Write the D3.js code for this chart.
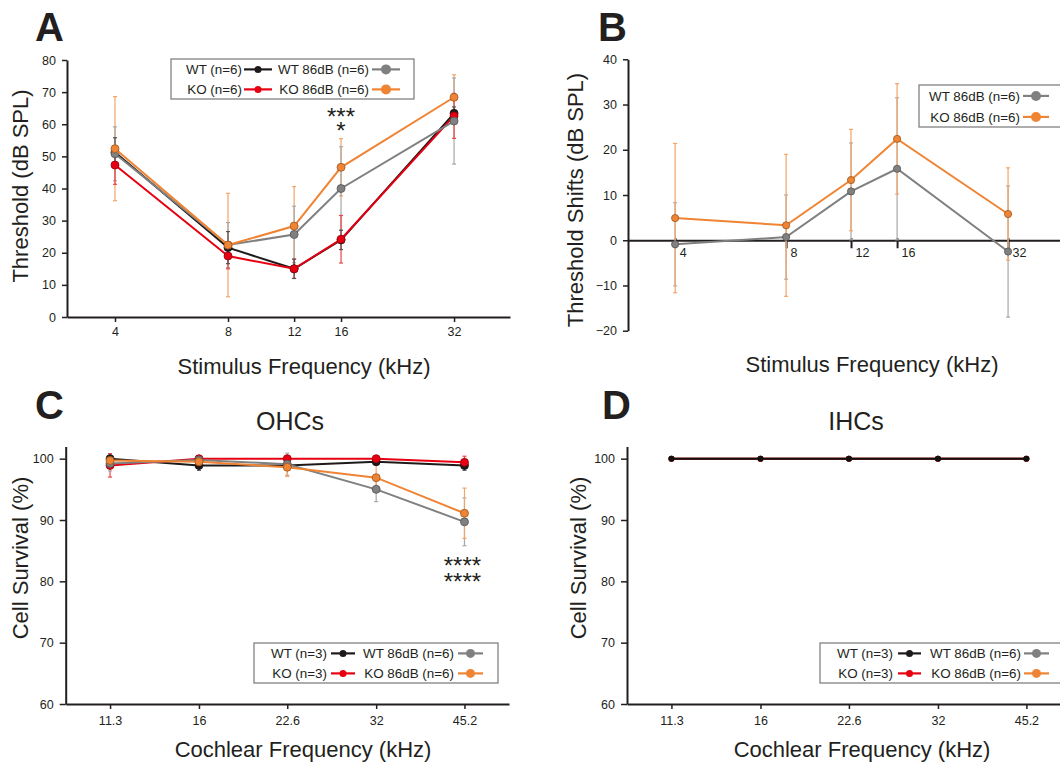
<!DOCTYPE html>
<html>
<head>
<meta charset="utf-8">
<script src="https://cdn.jsdelivr.net/npm/d3@7"></script>
<style>
  body { margin: 0; background: #fff; }
  svg { display: block; }
</style>
</head>
<body>
<script>
// ---- data ----
var freqABR = [4, 8, 12, 16, 32];
var thrWT = [51.3, 21.6, 15.0, 24.0, 63.4];
var thrWTsd = [4.5, 5.0, 3.0, 3.0, 2.0];
var thrKO = [47.3, 19.0, 15.0, 24.2, 62.6];
var thrKOsd = [6.0, 4.0, 3.0, 7.4, 7.0];
var thrWT86 = [50.8, 22.4, 25.7, 40.0, 61.0];
var thrWT86sd = [8.4, 7.0, 8.8, 13.0, 13.4];
var thrKO86 = [52.4, 22.4, 28.3, 46.6, 68.4];
var thrKO86sd = [16.2, 16.1, 12.3, 8.9, 7.0];

var shiftWT86 = [-0.9, 0.7, 10.8, 15.8, -2.5];
var shiftWT86sd = [9.2, 9.3, 10.7, 15.7, 14.5];
var shiftKO86 = [4.9, 3.3, 13.3, 22.4, 5.8];
var shiftKO86sd = [16.5, 15.7, 11.2, 12.2, 10.2];

var cochFreq = [11.3, 16, 22.6, 32, 45.2];
var ohcWT = [100, 98.9, 98.9, 99.5, 98.9];
var ohcWTsd = [0.8, 0.8, 0.6, 0.5, 0.8];
var ohcKO = [98.9, 100, 100, 100, 99.4];
var ohcKOsd = [1.9, 0.3, 0.3, 0.3, 1.0];
var ohcWT86 = [99.2, 99.8, 99.1, 95.0, 89.7];
var ohcWT86sd = [1.2, 0.5, 1.8, 2.0, 3.9];
var ohcKO86 = [99.7, 99.5, 98.6, 96.9, 91.1];
var ohcKO86sd = [0.8, 0.6, 1.5, 2.0, 4.1];

var ihcWT = [100, 100, 100, 100, 100];
var ihcKO = [100, 100, 100, 100, 100];
var ihcWT86 = [100, 100, 100, 100, 100];
var ihcKO86 = [100, 100, 100, 100, 100];

var ticksThr = [0, 10, 20, 30, 40, 50, 60, 70, 80];
var ticksShift = [-20, -10, 0, 10, 20, 30, 40];
var ticksSurv = [60, 70, 80, 90, 100];

// ---- style ----
var FONT = '"Liberation Sans", Arial, Helvetica, sans-serif';
var INK = "#231f20";
var C_WT = "#1e1a1a", C_KO = "#e60012", C_WT86 = "#808080", C_KO86 = "#ef8434";
var E_WT = "#555555", E_KO = "#ee4444", E_WT86 = "#a8a8a8", E_KO86 = "#f3a468";

var svg = d3.select("body").append("svg")
    .attr("width", 1060)
    .attr("height", 766)
    .style("font-family", FONT);
svg.append("rect").attr("width", 1060).attr("height", 766).attr("fill", "#fff");

function styleAxis(g, fs) {
    g.attr("font-family", FONT).attr("font-size", fs || 12.5);
    g.select(".domain").attr("stroke", INK).attr("stroke-width", 2);
    g.selectAll(".tick line").attr("stroke", INK).attr("stroke-width", 1.5);
    g.selectAll(".tick text").attr("fill", INK);
}

function text(x, y, s, size, opts) {
    opts = opts || {};
    var t = svg.append("text")
        .attr("x", x).attr("y", y)
        .attr("font-size", size)
        .attr("fill", INK)
        .attr("text-anchor", opts.anchor || "middle")
        .text(s);
    if (opts.bold) t.attr("font-weight", "bold");
    if (opts.rotate) t.attr("transform", "rotate(-90," + x + "," + y + ")");
    return t;
}

// two stacked rows of asterisks in one text block
function stars(x, y, rows, gap) {
    var t = svg.append("text")
        .attr("x", x).attr("y", y)
        .attr("font-size", 24)
        .attr("fill", INK)
        .attr("text-anchor", "middle");
    rows.forEach(function (r, i) {
        t.append("tspan").attr("x", x).attr("dy", i ? gap : 0).text(r);
    });
}

function errorBars(g, x, y, xs, vals, sds, color) {
    var idx = d3.range(xs.length);
    var e = g.append("g").attr("stroke", color).attr("stroke-width", 1.2).attr("fill", "none");
    e.selectAll(null).data(idx).join("line")
        .attr("x1", function (i) { return x(xs[i]); })
        .attr("x2", function (i) { return x(xs[i]); })
        .attr("y1", function (i) { return y(vals[i] - sds[i]); })
        .attr("y2", function (i) { return y(vals[i] + sds[i]); });
    [-1, 1].forEach(function (s) {
        e.selectAll(null).data(idx).join("line")
            .attr("x1", function (i) { return x(xs[i]) - 2; })
            .attr("x2", function (i) { return x(xs[i]) + 2; })
            .attr("y1", function (i) { return y(vals[i] + s * sds[i]); })
            .attr("y2", function (i) { return y(vals[i] + s * sds[i]); });
    });
}

function series(g, x, y, xs, vals, color, r, outline) {
    var idx = d3.range(xs.length);
    var line = d3.line()
        .x(function (i) { return x(xs[i]); })
        .y(function (i) { return y(vals[i]); });
    g.append("path").datum(idx)
        .attr("d", line)
        .attr("fill", "none")
        .attr("stroke", color)
        .attr("stroke-width", 2);
    g.selectAll(null).data(idx).join("circle")
        .attr("cx", function (i) { return x(xs[i]); })
        .attr("cy", function (i) { return y(vals[i]); })
        .attr("r", r)
        .attr("fill", color)
        .attr("stroke", outline ? d3.color(color).darker(1.2) : "none")
        .attr("stroke-width", 0.8);
}

// legend: items = [{label, color, col, row, r}]
function legend(x0, y0, w, h, items, cols) {
    var g = svg.append("g").attr("transform", "translate(" + x0 + "," + y0 + ")");
    g.append("rect").attr("width", w).attr("height", h)
        .attr("fill", "#fff").attr("stroke", "#777").attr("stroke-width", 1.2);
    items.forEach(function (it) {
        var c = cols[it.col];
        var cy = it.row === 0 ? h * 0.26 : h * 0.76;
        g.append("text")
            .attr("x", c.textEnd).attr("y", cy + 4.8)
            .attr("text-anchor", "end")
            .attr("font-size", 13.4)
            .attr("fill", INK)
            .text(it.label);
        g.append("line")
            .attr("x1", c.s0).attr("x2", c.s1)
            .attr("y1", cy).attr("y2", cy)
            .attr("stroke", it.color).attr("stroke-width", 2.2);
        g.append("circle")
            .attr("cx", (c.s0 + c.s1) / 2).attr("cy", cy)
            .attr("r", it.r).attr("fill", it.color);
    });
}

// ================= Panel A =================
(function () {
    var x = d3.scaleLog().base(2).domain([2.98, 45.1]).range([67, 510]);
    var y = d3.scaleLinear().domain([0, 80]).range([317, 60]);
    var g = svg.append("g");

    g.append("g").attr("transform", "translate(67,0)")
        .call(d3.axisLeft(y).tickValues(ticksThr).tickSize(5).tickSizeOuter(0).tickPadding(6))
        .call(styleAxis);
    g.append("g").attr("transform", "translate(0,317)")
        .call(d3.axisBottom(x).tickValues(freqABR).tickFormat(d3.format("d")).tickSize(5).tickSizeOuter(0).tickPadding(5))
        .call(styleAxis);

    errorBars(g, x, y, freqABR, thrKO86, thrKO86sd, E_KO86);
    errorBars(g, x, y, freqABR, thrWT86, thrWT86sd, E_WT86);
    errorBars(g, x, y, freqABR, thrKO, thrKOsd, E_KO);
    errorBars(g, x, y, freqABR, thrWT, thrWTsd, E_WT);
    series(g, x, y, freqABR, thrWT, C_WT, 4, true);
    series(g, x, y, freqABR, thrKO, C_KO, 4, true);
    series(g, x, y, freqABR, thrWT86, C_WT86, 4, true);
    series(g, x, y, freqABR, thrKO86, C_KO86, 4, true);

    stars(x(16), 125, ["***", "*"], 14);

    text(35, 41, "A", 40, { anchor: "start", bold: true });
    text(28, 186, "Threshold (dB SPL)", 22, { rotate: true });
    text(304, 374, "Stimulus Frequency (kHz)", 22);

    legend(171, 59, 243, 40, [
        { label: "WT (n=6)", color: C_WT, col: 0, row: 0, r: 3.5 },
        { label: "KO (n=6)", color: C_KO, col: 0, row: 1, r: 3.5 },
        { label: "WT 86dB (n=6)", color: C_WT86, col: 1, row: 0, r: 5 },
        { label: "KO 86dB (n=6)", color: C_KO86, col: 1, row: 1, r: 5 }
    ], [{ textEnd: 71, s0: 73, s1: 101 }, { textEnd: 198, s0: 201, s1: 229 }]);
})();

// ================= Panel B =================
(function () {
    var x = d3.scaleLog().base(2).domain([2.98, 45.1]).range([628, 1063]);
    var y = d3.scaleLinear().domain([-20, 40]).range([330.7, 59.3]);
    var g = svg.append("g");

    g.append("g").attr("transform", "translate(628,0)")
        .call(d3.axisLeft(y).tickValues(ticksShift).tickSize(5).tickSizeOuter(0).tickPadding(6))
        .call(styleAxis);
    var xa = g.append("g").attr("transform", "translate(0," + y(0) + ")")
        .call(d3.axisBottom(x).tickValues(freqABR).tickFormat(d3.format("d")).tickSize(8).tickSizeOuter(0).tickPadding(0))
        .call(styleAxis);
    xa.selectAll(".tick line").attr("y1", -2).attr("y2", 8).attr("stroke-width", 2);
    xa.selectAll(".tick text").attr("text-anchor", "start").attr("x", 4);

    errorBars(g, x, y, freqABR, shiftWT86, shiftWT86sd, E_WT86);
    errorBars(g, x, y, freqABR, shiftKO86, shiftKO86sd, E_KO86);
    series(g, x, y, freqABR, shiftWT86, C_WT86, 3.6, true);
    series(g, x, y, freqABR, shiftKO86, C_KO86, 3.6, true);

    text(598, 41, "B", 40, { anchor: "start", bold: true });
    text(583, 200, "Threshold Shifts (dB SPL)", 22, { rotate: true });
    text(872, 372, "Stimulus Frequency (kHz)", 22);

    legend(919, 85, 145, 42, [
        { label: "WT 86dB (n=6)", color: C_WT86, col: 0, row: 0, r: 5 },
        { label: "KO 86dB (n=6)", color: C_KO86, col: 0, row: 1, r: 5 }
    ], [{ textEnd: 101, s0: 104, s1: 130 }]);
})();

// ================= Panel C =================
(function () {
    var x = d3.scaleLog().base(2).domain([9.5, 53.8]).range([65.7, 509]);
    var y = d3.scaleLinear().domain([60, 102]).range([704, 446.4]);
    var g = svg.append("g");

    g.append("g").attr("transform", "translate(65.7,0)")
        .call(d3.axisLeft(y).tickValues(ticksSurv).tickSize(6).tickSizeOuter(0).tickPadding(6))
        .call(styleAxis);
    g.append("g").attr("transform", "translate(0,704)")
        .call(d3.axisBottom(x).tickValues(cochFreq).tickFormat(function (d) { return String(d); }).tickSize(5).tickSizeOuter(0).tickPadding(7))
        .call(styleAxis);

    errorBars(g, x, y, cochFreq, ohcWT, ohcWTsd, E_WT);
    errorBars(g, x, y, cochFreq, ohcKO, ohcKOsd, E_KO);
    errorBars(g, x, y, cochFreq, ohcWT86, ohcWT86sd, E_WT86);
    errorBars(g, x, y, cochFreq, ohcKO86, ohcKO86sd, E_KO86);
    series(g, x, y, cochFreq, ohcWT, C_WT, 4, true);
    series(g, x, y, cochFreq, ohcKO, C_KO, 4, true);
    series(g, x, y, cochFreq, ohcWT86, C_WT86, 4, true);
    series(g, x, y, cochFreq, ohcKO86, C_KO86, 4, true);

    stars(x(45.2) - 2, 574, ["****", "****"], 16);

    text(35, 419, "C", 40, { anchor: "start", bold: true });
    text(290, 430, "OHCs", 25);
    text(28, 558, "Cell Survival (%)", 22, { rotate: true });
    text(303, 757, "Cochlear Frequency (kHz)", 22);

    legend(254, 643, 244, 40, [
        { label: "WT (n=3)", color: C_WT, col: 0, row: 0, r: 3.5 },
        { label: "KO (n=3)", color: C_KO, col: 0, row: 1, r: 3.5 },
        { label: "WT 86dB (n=6)", color: C_WT86, col: 1, row: 0, r: 4.5 },
        { label: "KO 86dB (n=6)", color: C_KO86, col: 1, row: 1, r: 4.5 }
    ], [{ textEnd: 73, s0: 77, s1: 101 }, { textEnd: 200, s0: 204, s1: 229 }]);
})();

// ================= Panel D =================
(function () {
    var x = d3.scaleLog().base(2).domain([9.5, 53.8]).range([627, 1071]);
    var y = d3.scaleLinear().domain([60, 102]).range([704, 446.4]);
    var g = svg.append("g");

    g.append("g").attr("transform", "translate(627,0)")
        .call(d3.axisLeft(y).tickValues(ticksSurv).tickSize(6).tickSizeOuter(0).tickPadding(6))
        .call(styleAxis);
    g.append("g").attr("transform", "translate(0,704)")
        .call(d3.axisBottom(x).tickValues(cochFreq).tickFormat(function (d) { return String(d); }).tickSize(5).tickSizeOuter(0).tickPadding(7))
        .call(styleAxis);

    series(g, x, y, cochFreq, ihcKO86, C_KO86, 3, false);
    series(g, x, y, cochFreq, ihcWT86, C_WT86, 3, false);
    series(g, x, y, cochFreq, ihcKO, C_KO, 3, false);
    series(g, x, y, cochFreq, ihcWT, "#111", 3, false);

    text(602, 419, "D", 40, { anchor: "start", bold: true });
    text(856, 430, "IHCs", 25);
    text(586, 558, "Cell Survival (%)", 22, { rotate: true });
    text(862, 757, "Cochlear Frequency (kHz)", 22);

    legend(820, 643, 244, 40, [
        { label: "WT (n=3)", color: C_WT, col: 0, row: 0, r: 3.5 },
        { label: "KO (n=3)", color: C_KO, col: 0, row: 1, r: 3.5 },
        { label: "WT 86dB (n=6)", color: C_WT86, col: 1, row: 0, r: 4.5 },
        { label: "KO 86dB (n=6)", color: C_KO86, col: 1, row: 1, r: 4.5 }
    ], [{ textEnd: 73, s0: 78, s1: 101 }, { textEnd: 201, s0: 204, s1: 229 }]);
})();
</script>
</body>
</html>
